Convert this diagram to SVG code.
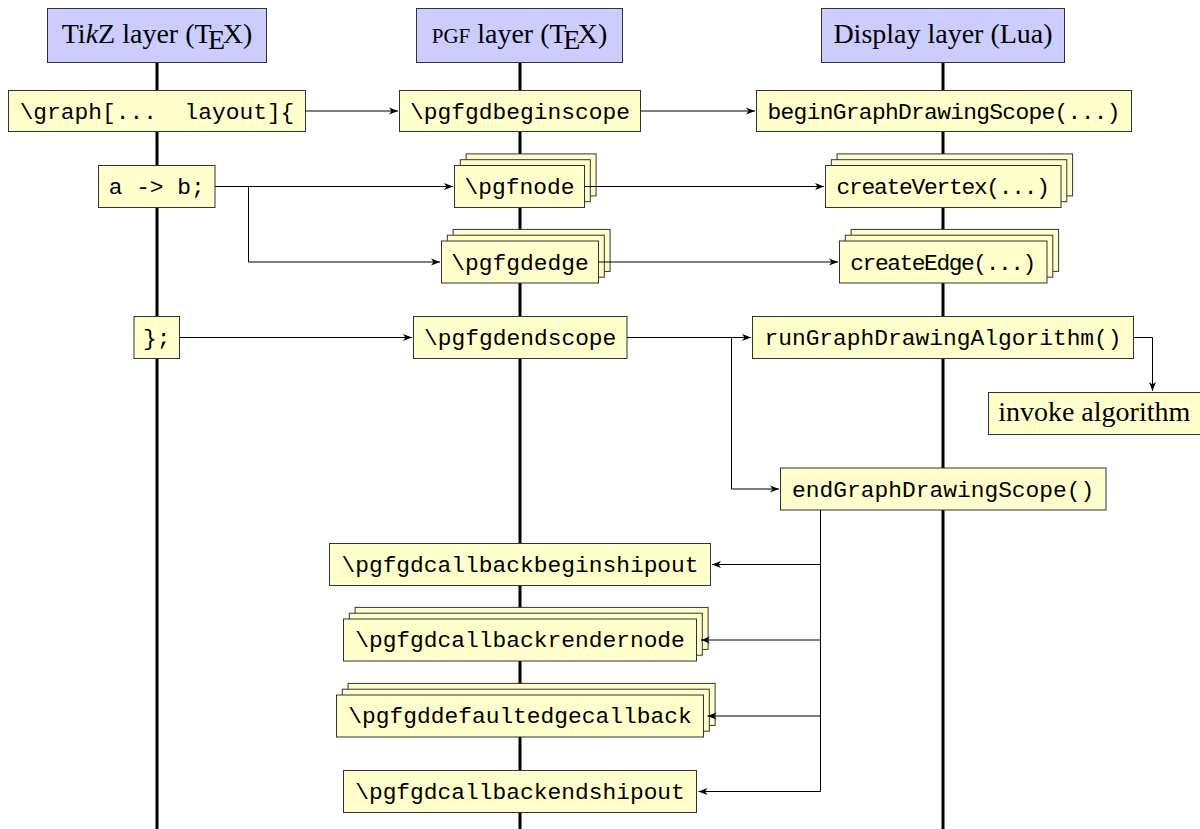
<svg xmlns="http://www.w3.org/2000/svg" width="1200" height="829" viewBox="0 0 1200 829">
<style>
.hdr{fill:#CCCCFF;stroke:#333;stroke-width:1}
.box{fill:#FFFFCC;stroke:#333;stroke-width:1}
.life{stroke:#000;stroke-width:3}
.con{fill:none;stroke:#000;stroke-width:1;marker-end:url(#arr)}
.tt{font-family:"Liberation Mono","DejaVu Sans Mono",monospace;font-size:22.9px;text-anchor:middle;fill:#000}
.rm{font-family:"Liberation Serif","DejaVu Serif",serif;font-size:28px;text-anchor:middle;fill:#000}
</style>
<defs>
<marker id="arr" markerWidth="10" markerHeight="8" refX="9" refY="4" orient="auto" markerUnits="userSpaceOnUse">
<path d="M0,0.5 L9,4 L0,7.5 L2.5,4 z" fill="#000"/>
</marker>
</defs>
<rect width="1200" height="829" fill="#fff"/>
<g id="lifelines">
<line class="life" x1="157" y1="62" x2="157" y2="829"/>
<line class="life" x1="520" y1="62" x2="520" y2="829"/>
<line class="life" x1="943" y1="62" x2="943" y2="829"/>
</g>
<g id="hdr-tikz">
<rect class="hdr" x="47.5" y="8.5" width="219" height="54"/>
<text class="rm" x="157" y="43">Ti<tspan font-style="italic">k</tspan>Z layer (T<tspan dx="-3.5" dy="6">E</tspan><tspan dx="-2.5" dy="-6">X)</tspan></text>
</g>
<g id="hdr-pgf">
<rect class="hdr" x="416.5" y="8.5" width="206" height="54"/>
<text class="rm" x="519.5" y="43"><tspan font-size="21">PGF</tspan> layer (T<tspan dx="-3.5" dy="6">E</tspan><tspan dx="-2.5" dy="-6">X)</tspan></text>
</g>
<g id="hdr-display">
<rect class="hdr" x="821.5" y="8.5" width="243" height="54"/>
<text class="rm" x="943" y="43">Display layer (Lua)</text>
</g>
<g id="graph">
<rect class="box" x="8.5" y="90.5" width="297" height="41"/>
<text class="tt" x="157" y="118.5" xml:space="preserve">\graph[...  layout]{</text>
</g>
<g id="pgfgdbeginscope">
<rect class="box" x="399.5" y="90.5" width="241" height="41"/>
<text class="tt" x="520" y="118.5">\pgfgdbeginscope</text>
</g>
<g id="beginGraphDrawingScope">
<rect class="box" x="756.5" y="90.5" width="375" height="41"/>
<text class="tt" x="944" y="118.5" textLength="353" lengthAdjust="spacing">beginGraphDrawingScope(...)</text>
</g>
<g id="atob">
<rect class="box" x="98.5" y="165.5" width="116.5" height="42"/>
<text class="tt" x="156.75" y="194">a -&gt; b;</text>
</g>
<g id="pgfnode">
<rect class="box" x="466.1" y="153.9" width="130" height="42"/>
<rect class="box" x="460.3" y="159.7" width="130" height="42"/>
<rect class="box" x="454.5" y="165.5" width="130" height="42"/>
<text class="tt" x="519.5" y="194">\pgfnode</text>
</g>
<g id="createVertex">
<rect class="box" x="837.1" y="153.9" width="235.5" height="42"/>
<rect class="box" x="831.3" y="159.7" width="235.5" height="42"/>
<rect class="box" x="825.5" y="165.5" width="235.5" height="42"/>
<text class="tt" x="943.3" y="194" textLength="213.5" lengthAdjust="spacing">createVertex(...)</text>
</g>
<g id="pgfgdedge">
<rect class="box" x="453.1" y="229.4" width="157" height="42"/>
<rect class="box" x="447.3" y="235.2" width="157" height="42"/>
<rect class="box" x="441.5" y="241" width="157" height="42"/>
<text class="tt" x="520" y="269.5">\pgfgdedge</text>
</g>
<g id="createEdge">
<rect class="box" x="851.1" y="229.4" width="207.5" height="42"/>
<rect class="box" x="845.3" y="235.2" width="207.5" height="42"/>
<rect class="box" x="839.5" y="241" width="207.5" height="42"/>
<text class="tt" x="943.3" y="269.5" textLength="186" lengthAdjust="spacing">createEdge(...)</text>
</g>
<g id="close">
<rect class="box" x="134" y="316.5" width="45.5" height="42"/>
<text class="tt" x="156.75" y="345">};</text>
</g>
<g id="pgfgdendscope">
<rect class="box" x="413.5" y="316.5" width="213.5" height="42"/>
<text class="tt" x="520.2" y="345">\pgfgdendscope</text>
</g>
<g id="runGraphDrawingAlgorithm">
<rect class="box" x="752.5" y="316.5" width="381" height="42"/>
<text class="tt" x="943" y="345">runGraphDrawingAlgorithm()</text>
</g>
<g id="invoke">
<rect class="box" x="988.5" y="392.5" width="230" height="42"/>
<text class="rm" x="1094.2" y="420.5">invoke algorithm</text>
</g>
<g id="endGraphDrawingScope">
<rect class="box" x="780.5" y="468" width="325.5" height="42"/>
<text class="tt" x="943.2" y="496.5">endGraphDrawingScope()</text>
</g>
<g id="beginshipout">
<rect class="box" x="329.5" y="543.5" width="381" height="42"/>
<text class="tt" x="520" y="571.8">\pgfgdcallbackbeginshipout</text>
</g>
<g id="rendernode">
<rect class="box" x="355.1" y="607.4" width="353" height="42"/>
<rect class="box" x="349.3" y="613.2" width="353" height="42"/>
<rect class="box" x="343.5" y="619" width="353" height="42"/>
<text class="tt" x="520" y="647.3">\pgfgdcallbackrendernode</text>
</g>
<g id="defaultedgecallback">
<rect class="box" x="348.1" y="683.4" width="367" height="42"/>
<rect class="box" x="342.3" y="689.2" width="367" height="42"/>
<rect class="box" x="336.5" y="695" width="367" height="42"/>
<text class="tt" x="520" y="723.3">\pgfgddefaultedgecallback</text>
</g>
<g id="endshipout">
<rect class="box" x="343.5" y="770.5" width="353" height="42"/>
<text class="tt" x="520" y="798.8">\pgfgdcallbackendshipout</text>
</g>
<g id="connectors">
<path class="con" d="M305.5,111 H398"/>
<path class="con" d="M640.5,111 H755"/>
<path class="con" d="M215,186.5 H453"/>
<path class="con" d="M215,186.5 H248.5 V262 H440"/>
<path class="con" d="M584.5,186.5 H824"/>
<path class="con" d="M598.5,262 H838"/>
<path class="con" d="M179.5,337.5 H412"/>
<path class="con" d="M627,337.5 H751"/>
<path class="con" d="M627,337.5 H731.5 V489 H779"/>
<path class="con" d="M1133.5,337.5 H1152.5 V391"/>
<path class="con" d="M820.5,510 V564.5 H712"/>
<path class="con" d="M820.5,510 V640 H701"/>
<path class="con" d="M820.5,510 V716 H707.5"/>
<path class="con" d="M820.5,510 V791.5 H698.5"/>
</g>
</svg>
